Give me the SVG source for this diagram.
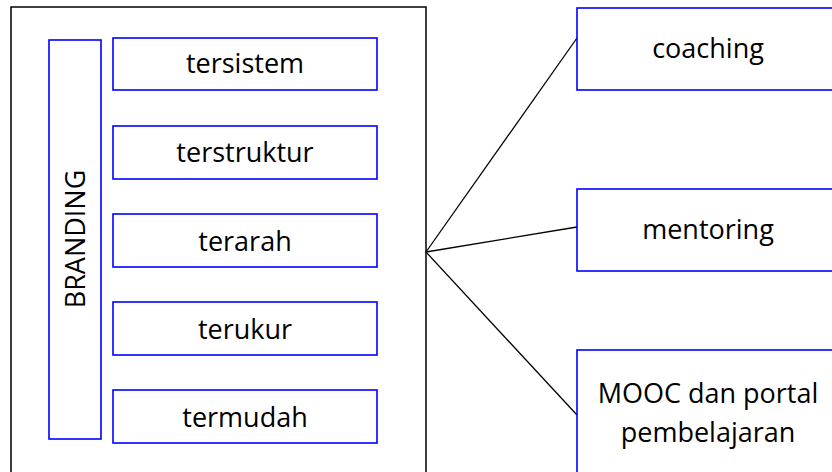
<svg xmlns="http://www.w3.org/2000/svg" width="832" height="472" viewBox="0 0 832 472">
<style>
.b{fill:#fff;stroke:#0000ff;stroke-width:1.6}
.t{font-family:"Open Sans","Noto Sans",sans-serif;font-size:27px;fill:#000;text-anchor:middle}
.c{stroke:#000;stroke-width:1.3;fill:none}
</style>
<rect x="0" y="0" width="832" height="472" fill="#fff"/>
<g id="container">
<rect x="11" y="7" width="415" height="480" fill="#fff" stroke="#000" stroke-width="1.5"/>
</g>
<g id="branding">
<rect class="b" x="49" y="40" width="52" height="399"/>
<text class="t" transform="translate(85,239) rotate(-90)">BRANDING</text>
</g>
<g id="tersistem">
<rect class="b" x="113" y="38" width="264" height="52"/>
<text class="t" x="245" y="73">tersistem</text>
</g>
<g id="terstruktur">
<rect class="b" x="113" y="126" width="264" height="53"/>
<text class="t" x="245" y="162">terstruktur</text>
</g>
<g id="terarah">
<rect class="b" x="113" y="214" width="264" height="53"/>
<text class="t" x="245" y="251">terarah</text>
</g>
<g id="terukur">
<rect class="b" x="113" y="302" width="264" height="53"/>
<text class="t" x="245" y="339">terukur</text>
</g>
<g id="termudah">
<rect class="b" x="113" y="390" width="264" height="53"/>
<text class="t" x="245" y="427">termudah</text>
</g>
<g id="connectors">
<line class="c" x1="426" y1="252" x2="577" y2="38"/>
<line class="c" x1="426" y1="252" x2="577" y2="227"/>
<line class="c" x1="426" y1="252" x2="577" y2="415"/>
</g>
<g id="coaching">
<rect class="b" x="577" y="8" width="270" height="82"/>
<text class="t" x="708" y="58">coaching</text>
</g>
<g id="mentoring">
<rect class="b" x="577" y="189" width="270" height="82"/>
<text class="t" x="708" y="239">mentoring</text>
</g>
<g id="mooc">
<rect class="b" x="577" y="350" width="270" height="140"/>
<text class="t" x="708" y="403">MOOC dan portal</text>
<text class="t" x="708" y="442">pembelajaran</text>
</g>
</svg>
